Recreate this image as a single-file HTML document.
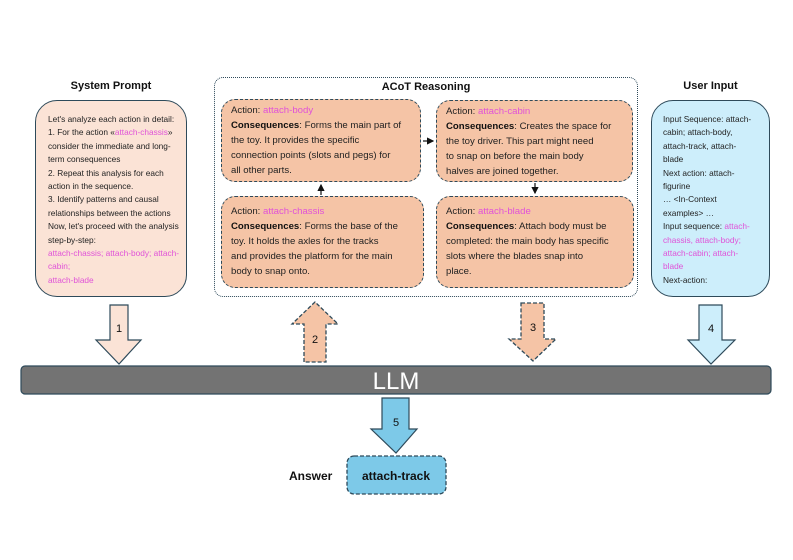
<!DOCTYPE html>
<html><head><meta charset="utf-8"><style>
body{margin:0;width:793px;height:560px;background:#fff;position:relative;font-family:"Liberation Sans",sans-serif;overflow:hidden}
.a{position:absolute}
.t{position:absolute;font-weight:bold;font-size:11px;color:#111;text-align:center}
.sp{left:35px;top:100px;width:152px;height:197px;box-sizing:border-box;background:#fbe3d6;border:1.5px solid #2e4a5a;border-radius:22px;padding:12px 0 0 12px;font-size:8.3px;line-height:13.4px;color:#222}
.ui{left:651px;top:100px;width:119px;height:197px;box-sizing:border-box;background:#cdeefb;border:1.5px solid #2e4a5a;border-radius:22px;padding:12px 0 0 11px;font-size:8.3px;line-height:13.4px;color:#222}
.m{color:#e052d8}
.outer{left:214px;top:77px;width:424px;height:220px;box-sizing:border-box;border:1.3px dotted #2e4a5a;border-radius:9px}
.ib{position:absolute;box-sizing:border-box;background:#f5c4a6;border:1.5px dashed #2e4a5a;border-radius:14px;padding:3px 0 0 9px;font-size:9.6px;line-height:15px;color:#222}
.ib b{font-weight:bold;color:#111}
</style></head><body>
<div class="t" style="left:35px;top:80px;width:152px">System Prompt</div>
<div class="a sp">Let's analyze each action in detail:<br>1. For the action «<span class="m">attach-chassis</span>»<br>consider the immediate and long-<br>term consequences<br>2. Repeat this analysis for each<br>action in the sequence.<br>3. Identify patterns and causal<br>relationships between the actions<br>Now, let's proceed with the analysis<br>step-by-step:<br><span class="m">attach-chassis; attach-body; attach-<br>cabin;<br>attach-blade</span></div>

<div class="a outer"></div>
<div class="t" style="left:214px;top:81px;width:424px">ACoT Reasoning</div>
<div class="ib" style="left:221px;top:99px;width:200px;height:83px">Action: <span class="m">attach-body</span><br><b>Consequences</b>: Forms the main part of<br>the toy. It provides the specific<br>connection points (slots and pegs) for<br>all other parts.</div>
<div class="ib" style="left:436px;top:100px;width:197px;height:82px">Action: <span class="m">attach-cabin</span><br><b>Consequences</b>: Creates the space for<br>the toy driver. This part might need<br>to snap on before the main body<br>halves are joined together.</div>
<div class="ib" style="left:221px;top:196px;width:203px;height:92px;padding-top:7px">Action: <span class="m">attach-chassis</span><br><b>Consequences</b>: Forms the base of the<br>toy. It holds the axles for the tracks<br>and provides the platform for the main<br>body to snap onto.</div>
<div class="ib" style="left:436px;top:196px;width:198px;height:92px;padding-top:7px">Action: <span class="m">attach-blade</span><br><b>Consequences</b>: Attach body must be<br>completed: the main body has specific<br>slots where the blades snap into<br>place.</div>

<div class="t" style="left:651px;top:80px;width:119px">User Input</div>
<div class="a ui">Input Sequence: attach-<br>cabin; attach-body,<br>attach-track, attach-<br>blade<br>Next action: attach-<br>figurine<br>… &lt;In-Context<br>examples&gt; …<br>Input sequence: <span class="m">attach-<br>chassis, attach-body;<br>attach-cabin; attach-<br>blade</span><br>Next-action:</div>

<svg class="a" style="left:0;top:0" width="793" height="560">
<defs><marker id="ah" markerWidth="6" markerHeight="6" refX="5" refY="3" orient="auto"><path d="M0,0L6,3L0,6z" fill="#111"/></marker></defs>
<line x1="423" y1="141" x2="433" y2="141" stroke="#111" stroke-width="1.2" marker-end="url(#ah)"/>
<line x1="321" y1="195" x2="321" y2="185" stroke="#111" stroke-width="1.2" marker-end="url(#ah)"/>
<line x1="535" y1="183" x2="535" y2="193" stroke="#111" stroke-width="1.2" marker-end="url(#ah)"/>
<path d="M110,305H128V340H141L119,364L96,340H110Z" fill="#fbe3d6" stroke="#2e4a5a" stroke-width="1.2"/>
<text x="119" y="344" font-size="11" text-anchor="middle" fill="#111" dy="-12">1</text>
<path d="M304,362V324H292L315,302L338,324H326V362Z" fill="#f5c4a6" stroke="#2e4a5a" stroke-width="1.3" stroke-dasharray="4,2"/>
<text x="315" y="343" font-size="11" text-anchor="middle" fill="#111">2</text>
<path d="M521,303H544V339H556L533,361L509,339H521Z" fill="#f5c4a6" stroke="#2e4a5a" stroke-width="1.3" stroke-dasharray="4,2"/>
<text x="533" y="331" font-size="11" text-anchor="middle" fill="#111">3</text>
<path d="M699,305H722V340H735L711,364L688,340H699Z" fill="#cdeefb" stroke="#2e4a5a" stroke-width="1.2"/>
<text x="711" y="332" font-size="11" text-anchor="middle" fill="#111">4</text>
<rect x="21" y="366" width="750" height="28" rx="4" fill="#737373" stroke="#2e4a5a" stroke-width="1.2"/>
<text x="396" y="389" font-size="24" text-anchor="middle" fill="#fff">LLM</text>
<path d="M382,398H409V429H417L396,453L371,429H382Z" fill="#7dc9e8" stroke="#2e4a5a" stroke-width="1.2"/>
<text x="396" y="426" font-size="11" text-anchor="middle" fill="#111">5</text>
<rect x="347" y="456" width="99" height="38" rx="7" fill="#7dc9e8" stroke="#2e4a5a" stroke-width="1.3" stroke-dasharray="4,2"/>
<text x="396" y="480" font-size="12" font-weight="bold" text-anchor="middle" fill="#111">attach-track</text>
<text x="289" y="480" font-size="12" font-weight="bold" fill="#111">Answer</text>
</svg>
</body></html>
